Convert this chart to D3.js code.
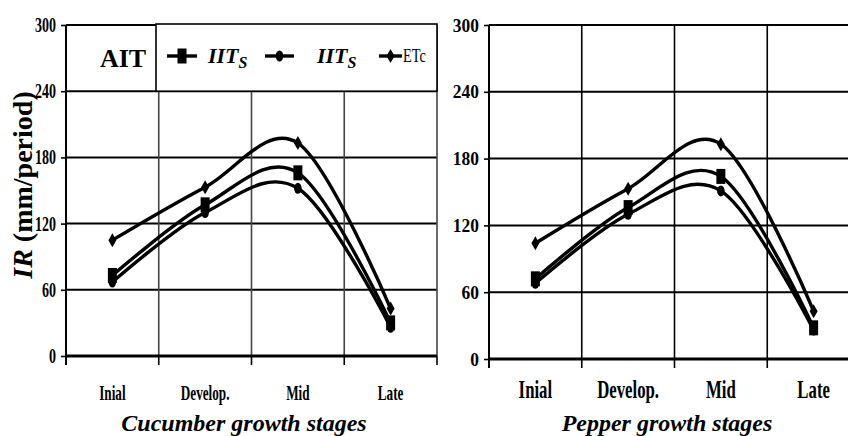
<!DOCTYPE html>
<html>
<head>
<meta charset="utf-8">
<script src="https://cdn.jsdelivr.net/npm/d3@7/dist/d3.min.js"></script>
<style>
  body { margin: 0; background: #fff; }
  svg text { font-family: "Liberation Serif", "Times New Roman", Times, "Nimbus Roman", "DejaVu Serif", serif; fill: #000; }
</style>
</head>
<body>
<div id="chart"></div>
<script>
// growth stages (x categories)
const stages = ["Inial", "Develop.", "Mid", "Late"];
const yTicks = [0, 60, 120, 180, 240, 300];

// cucumber (left panel)
const cucumberIITsq = [73, 137, 166, 30];
const cucumberIITdot = [67, 130, 152, 26];
const cucumberETc = [105, 153, 193, 43];

// pepper (right panel)
const pepperIITsq = [72, 136, 164, 28];
const pepperIITdot = [68, 130, 151, 26];
const pepperETc = [104, 153, 193, 43];

const W = 848, H = 436;
const SERIF = "'Liberation Serif', 'Times New Roman', Times, 'Nimbus Roman', 'DejaVu Serif', serif";

const svg = d3.select("#chart")
    .append("svg")
    .attr("width", W)
    .attr("height", H)
    .style("font-family", SERIF);

// marker drawing helpers
function drawMarker(g, kind, cx, cy) {
    if (kind === "square") {
        g.append("rect")
            .attr("x", cx - 4.5).attr("y", cy - 7.5)
            .attr("width", 9).attr("height", 15)
            .attr("fill", "#000");
    } else if (kind === "diamond") {
        g.append("path")
            .attr("d", `M${cx},${cy - 7}L${cx + 4},${cy}L${cx},${cy + 7}L${cx - 4},${cy}Z`)
            .attr("fill", "#000");
    } else {
        g.append("ellipse")
            .attr("cx", cx).attr("cy", cy)
            .attr("rx", 3.8).attr("ry", 5.5)
            .attr("fill", "#000");
    }
}

function drawPanel(cfg) {
    const g = svg.append("g");

    const x = d3.scaleBand()
        .domain(stages)
        .range([cfg.x0, cfg.x1]);
    const y = d3.scaleLinear()
        .domain([0, 300])
        .range([cfg.yBottom, cfg.yTop]);

    // horizontal grid
    g.selectAll(".hgrid")
        .data(yTicks.filter(d => d > 0))
        .enter()
        .append("line")
        .attr("x1", cfg.x0).attr("x2", cfg.x1)
        .attr("y1", d => y(d)).attr("y2", d => y(d))
        .attr("stroke", "#000")
        .attr("stroke-width", 2);

    // vertical grid at stage boundaries
    const bounds = stages.map(s => x(s)).concat([cfg.x1]);
    g.selectAll(".vgrid")
        .data(bounds.slice(1))
        .enter()
        .append("line")
        .attr("x1", d => d).attr("x2", d => d)
        .attr("y1", y(300)).attr("y2", y(0))
        .attr("stroke", cfg.vgridColor)
        .attr("stroke-width", 1.6);

    // boundary ticks below the axis
    g.selectAll(".btick")
        .data(bounds)
        .enter()
        .append("line")
        .attr("x1", d => d).attr("x2", d => d)
        .attr("y1", y(0)).attr("y2", y(0) + 9)
        .attr("stroke", "#000")
        .attr("stroke-width", 1.6);

    // y axis
    const yAxis = g.append("g")
        .attr("transform", "translate(" + cfg.x0 + ",0)")
        .call(d3.axisLeft(y).tickValues(yTicks).tickSize(5).tickPadding(4));
    yAxis.attr("font-family", null);
    yAxis.select(".domain").attr("stroke-width", 2).attr("d", `M0,${y(300)}V${y(0) + 9}`);
    yAxis.selectAll(".tick line").attr("stroke-width", 1.6);
    yAxis.selectAll("text")
        .style("font-family", SERIF)
        .attr("font-weight", "bold")
        .attr("font-size", cfg.yFont)
        .attr("transform", `scale(${cfg.yScaleX},1)`)
        .attr("x", -10 / cfg.yScaleX);

    // zero line
    g.append("line")
        .attr("x1", cfg.x0).attr("x2", cfg.x1)
        .attr("y1", y(0)).attr("y2", y(0))
        .attr("stroke", "#000")
        .attr("stroke-width", 3);

    // x labels
    g.selectAll(".xlab")
        .data(stages)
        .enter()
        .append("text")
        .attr("transform", d => `translate(${x(d) + x.bandwidth() / 2},${cfg.xLabY}) scale(${cfg.xScaleX},1)`)
        .attr("text-anchor", "middle")
        .attr("font-weight", "bold")
        .attr("font-size", cfg.xFont)
        .text(d => d);

    // x axis title
    g.append("text")
        .attr("x", cfg.titleX)
        .attr("y", cfg.titleY)
        .attr("text-anchor", "middle")
        .attr("font-weight", "bold")
        .attr("font-style", "italic")
        .attr("font-size", 24)
        .text(cfg.title);

    // series
    const line = d3.line()
        .x((d, i) => x(stages[i]) + x.bandwidth() / 2)
        .y(d => y(d))
        .curve(d3.curveCardinal.tension(0));

    cfg.series.forEach(s => {
        g.append("path")
            .datum(s.values)
            .attr("d", line)
            .attr("fill", "none")
            .attr("stroke", "#000")
            .attr("stroke-width", 3.4);
        s.values.forEach((v, i) => drawMarker(g, s.marker, x(stages[i]) + x.bandwidth() / 2, y(v)));
    });

    return {x: x, y: y, g: g};
}

const left = drawPanel({
    x0: 66, x1: 437, yTop: 25, yBottom: 356,
    yFont: 20, yScaleX: 0.7, vgridColor: "#444",
    xFont: 22, xScaleX: 0.6, xLabY: 400,
    title: "Cucumber growth stages", titleX: 244, titleY: 431,
    series: [
        {values: cucumberETc, marker: "diamond"},
        {values: cucumberIITsq, marker: "square"},
        {values: cucumberIITdot, marker: "dot"}
    ]
});

drawPanel({
    x0: 489, x1: 860, yTop: 25, yBottom: 359,
    yFont: 19, yScaleX: 0.92, vgridColor: "#000",
    xFont: 25, xScaleX: 0.67, xLabY: 398,
    title: "Pepper growth stages", titleX: 667, titleY: 431,
    series: [
        {values: pepperETc, marker: "diamond"},
        {values: pepperIITsq, marker: "square"},
        {values: pepperIITdot, marker: "dot"}
    ]
});

// legend box in the left panel
const lg = svg.append("g");
lg.append("rect")
    .attr("x", 156).attr("y", 24)
    .attr("width", 281).attr("height", left.y(240) - 24)
    .attr("fill", "#fff")
    .attr("stroke", "#000")
    .attr("stroke-width", 1.6);
lg.append("text")
    .attr("x", 123).attr("y", 67)
    .attr("text-anchor", "middle")
    .attr("font-weight", "bold")
    .attr("font-size", 26)
    .text("AIT");

const legendItems = [
    {marker: "square", x1: 167, x2: 197, label: "IIT", sub: "S", lx: 208},
    {marker: "dot", x1: 265, x2: 294, label: "IIT", sub: "S", lx: 317},
    {marker: "diamond", x1: 379, x2: 402, label: "ETc", lx: 403}
];
legendItems.forEach(d => {
    lg.append("line")
        .attr("x1", d.x1).attr("x2", d.x2)
        .attr("y1", 56).attr("y2", 56)
        .attr("stroke", "#000").attr("stroke-width", 3.4);
    drawMarker(lg, d.marker, (d.x1 + d.x2) / 2, 56);
    if (d.sub) {
        const t = lg.append("text")
            .attr("x", d.lx).attr("y", 63)
            .attr("font-weight", "bold")
            .attr("font-style", "italic")
            .attr("font-size", 22)
            .text(d.label);
        t.append("tspan")
            .attr("dy", 5)
            .attr("font-size", 16)
            .text(d.sub);
    } else {
        lg.append("text")
            .attr("transform", `translate(${d.lx},62) scale(0.75,1)`)
            .attr("font-size", 19)
            .text(d.label);
    }
});

// y axis title
const yt = svg.append("text")
    .attr("transform", "translate(32,185) rotate(-90)")
    .attr("text-anchor", "middle")
    .attr("font-weight", "bold")
    .attr("font-size", 28);
yt.append("tspan").attr("font-style", "italic").text("IR");
yt.append("tspan").text(" (mm/period)");
</script>
</body>
</html>
